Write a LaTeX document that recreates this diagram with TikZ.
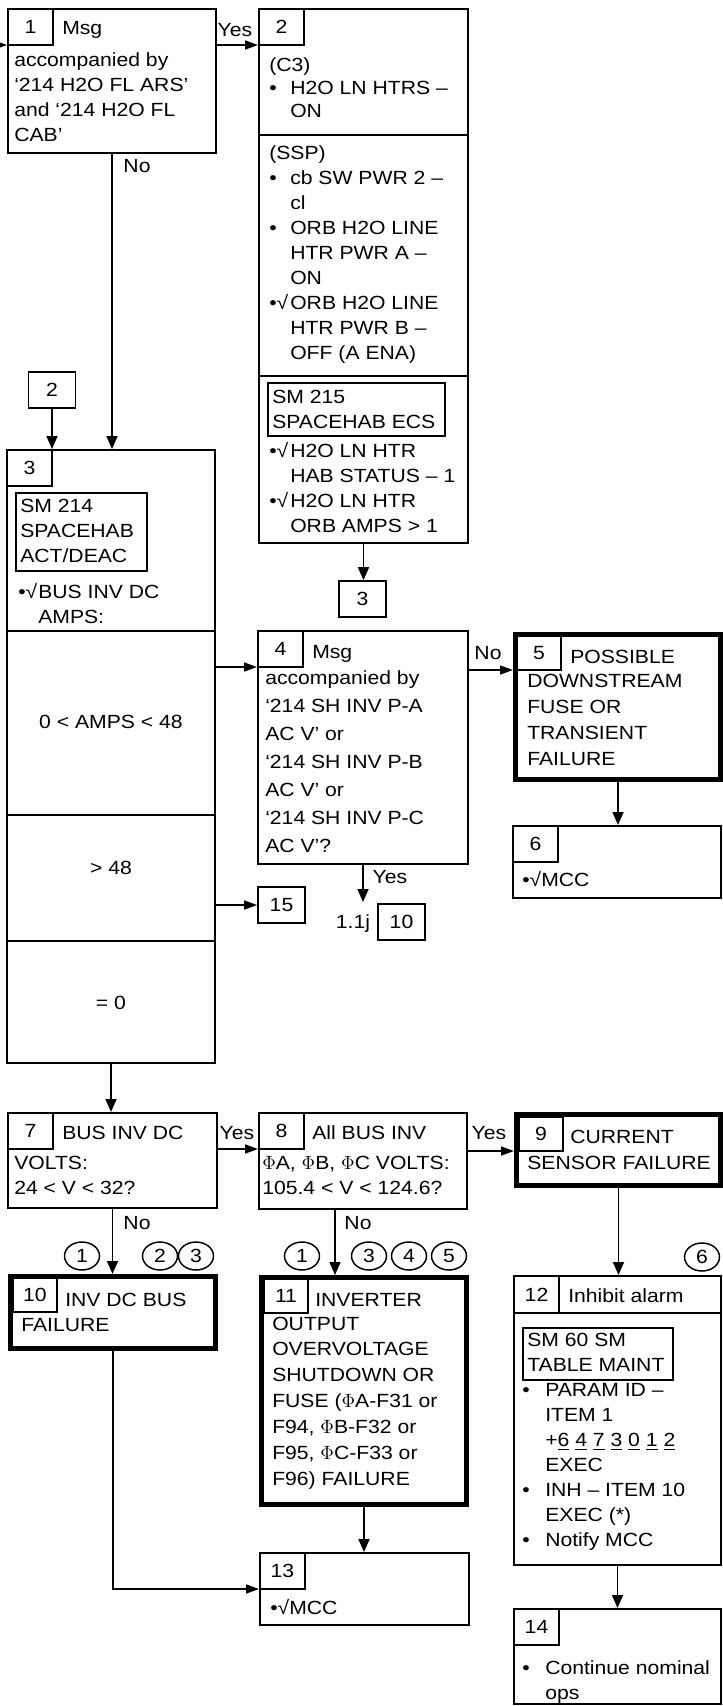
\documentclass[tikz,border=0pt]{standalone}
\usepackage{fontspec}
\setmainfont{Liberation Sans}[FakeStretch=1.11]
\usetikzlibrary{arrows.meta,fit,shapes.geometric}
\newdimen\pxu \pxu=0.75pt
\newcommand\bul[1][21]{\makebox[#1\pxu][l]{•}}
\newcommand\chk[1][21]{\makebox[#1\pxu][l]{•√}}
\newcommand\ind[1][21]{\hspace*{#1\pxu}}
\newcommand\fsz[1]{\fontsize{14.3}{#1}\selectfont}

\begin{document}
\begin{tikzpicture}[x=0.75pt,y=-0.75pt,
      panel/.style={draw,line width=1.5pt,inner sep=0pt},
      heavy/.style={draw,line width=3.75pt,inner sep=0pt},
      smpanel/.style={draw,line width=1.2pt,inner sep=0pt},
      numbox/.style={draw,line width=1.1pt,anchor=north west,inner sep=0pt,outer sep=0pt,
        minimum width=33.75pt,minimum height=27pt,font=\fsz{16}},
      numin/.style={numbox,minimum width=33pt,minimum height=25.5pt},
      refbox/.style={draw,line width=1.3pt,inner sep=0pt,minimum width=35.25pt,
        minimum height=27pt,font=\fsz{16}},
      txt/.style={anchor=north west,inner sep=0pt,align=left,font=\fsz{18.75},
        execute at begin node={\rule{0pt}{12pt}}},
      lbl/.style={inner sep=0pt,font=\fsz{16}},
      cnum/.style={ellipse,draw,line width=1.1pt,inner sep=0pt,minimum width=26.25pt,
        minimum height=21pt,font=\fsz{16}},
      harr/.style={-{Triangle[length=9.75pt,width=6.75pt]},line width=1.2pt},
      varr/.style={-{Triangle[length=9.75pt,width=8.25pt]},line width=1.2pt}
    ]
    \useasboundingbox (0,0) rectangle (723,1706);

    % upper row
    \node[panel,fit={(8,9) (216,153)}] (b1) {};
    \node[numbox] (n1) at (8,9) {1};
    \node[txt] (t1a) at (62,18.5) {Msg};
    \node[txt] (t1b) at (14,52.5) {accompanied by\\‘214 H2O FL ARS’\\and ‘214 H2O FL\\CAB’};

    \node[panel,fit={(259,9) (468,543)}] (b2) {};
    \node[numbox] (n2) at (259,9) {2};
    \draw[line width=1.5pt] (259,135) -- (468,135) (259,376) -- (468,376);
    \node[txt,font=\fsz{17.25}] (t2a) at (269,57.5) {(C3)\\\bul H2O LN HTRS –\\\ind ON};
    \node[txt] (t2b) at (269,145.5) {(SSP)\\\bul cb SW PWR 2 –\\\ind cl\\\bul ORB H2O LINE\\
      \ind HTR PWR A –\\\ind ON\\\chk ORB H2O LINE\\\ind HTR PWR B –\\\ind OFF (A ENA)};
    \node[smpanel,fit={(268,383) (445,436)}] (sm215) {};
    \node[txt] (t2c) at (272,390) {SM 215\\SPACEHAB ECS};
    \node[txt] (t2d) at (269,442.5) {\chk H2O LN HTR\\\ind HAB STATUS – 1\\\chk H2O LN HTR\\\ind ORB AMPS > 1};

    \node[refbox] (r2) at (52,390) {2};
    \node[refbox] (r3) at (362.5,599) {3};
    \node[refbox] (r15) at (281.5,905) {15};
    \node[refbox] (r10) at (401.5,922) {10};

    % middle row
    \node[panel,fit={(7,450) (215,1063)}] (b3) {};
    \node[numbox] (n3) at (7,450) {3};
    \node[smpanel,fit={(16,493) (147,571)}] (sm214) {};
    \node[txt] (t3a) at (20,498.5) {SM 214\\SPACEHAB\\ACT/DEAC};
    \node[txt] (t3b) at (18,583.5) {\chk[20]BUS INV DC\\\ind[20]AMPS:};
    \draw[line width=1.5pt] (7,631) -- (215,631) (7,815) -- (215,815) (7,941) -- (215,941);
    \node[lbl] (t3c) at (111,722) {0 < AMPS < 48};
    \node[lbl] (t3d) at (111,868) {> 48};
    \node[lbl] (t3e) at (111,1003) {= 0};

    \node[panel,fit={(258,631) (468,864)}] (b4) {};
    \node[numbox] (n4) at (258,631) {4};
    \node[txt] (t4a) at (312,642.5) {Msg};
    \node[txt,font=\fsz{21}] (t4b) at (265,670.5) {accompanied by\\‘214 SH INV P-A\\AC V’ or\\
      ‘214 SH INV P-B\\AC V’ or\\‘214 SH INV P-C\\AC V’?};

    \node[heavy,fit={(515.5,634.5) (720.5,779.5)}] (b5) {};
    \node[numin] (n5) at (517,636) {5};
    \node[txt] (t5a) at (570,647.5) {POSSIBLE};
    \node[txt,font=\fsz{19.5}] (t5b) at (527,673.5) {DOWNSTREAM\\FUSE OR\\TRANSIENT\\FAILURE};

    \node[panel,fit={(513,826) (721,898)}] (b6) {};
    \node[numbox] (n6) at (513,826) {6};
    \node[txt] (t6) at (522,870.5) {•√MCC};

    % lower rows
    \node[panel,fit={(8,1113) (217,1208)}] (b7) {};
    \node[numbox] (n7) at (8,1113) {7};
    \node[txt] (t7a) at (62,1123.5) {BUS INV DC};
    \node[txt] (t7b) at (14,1155.5) {VOLTS:\\24 < V < 32?};

    \node[panel,fit={(259,1113) (467,1209)}] (b8) {};
    \node[numbox] (n8) at (259,1113) {8};
    \node[txt] (t8a) at (312,1123.5) {All BUS INV};
    \node[txt] (t8b) at (262,1155.5) {$\Phi$A, $\Phi$B, $\Phi$C VOLTS:\\105.4 < V < 124.6?};

    \node[heavy,fit={(516.5,1114.5) (720.5,1185.5)}] (b9) {};
    \node[numin] (n9) at (519,1117) {9};
    \node[txt] (t9a) at (570,1127.5) {CURRENT};
    \node[txt] (t9b) at (527,1153.5) {SENSOR FAILURE};

    \foreach \n/\x/\y/\d in {c7a/82/1256/1,c7b/160/1256/2,c7c/196/1256/3,
      c8a/302/1256/1,c8b/369/1256/3,c8c/409/1256/4,c8d/449/1256/5,c9a/702/1257/6}{
      \node[cnum] (\n) at (\x,\y) {\d};
    }

    \node[heavy,fit={(10.5,1276.5) (215.5,1348.5)}] (b10) {};
    \node[numin] (n10) at (13,1278) {10};
    \node[txt] (t10a) at (65,1290.5) {INV DC BUS};
    \node[txt] (t10b) at (21,1315.5) {FAILURE};

    \node[heavy,fit={(261.5,1277.5) (466.5,1504.5)}] (b11) {};
    \node[numin] (n11) at (264,1279) {11};
    \node[txt] (t11a) at (315,1290.5) {INVERTER};
    \node[txt,font=\fsz{19.4}] (t11b) at (272,1316.5) {OUTPUT\\OVERVOLTAGE\\SHUTDOWN OR\\
      FUSE ($\Phi$A-F31 or\\F94, $\Phi$B-F32 or\\F95, $\Phi$C-F33 or\\F96) FAILURE};

    \node[panel,fit={(514,1276) (721,1565)}] (b12) {};
    \node[numbox,minimum height=27.75pt] (n12) at (514,1276) {12};
    \draw[line width=1.1pt] (n12.south east) -- (b12.east |- n12.south);
    \node[txt] (t12a) at (568,1286.5) {Inhibit alarm};
    \node[smpanel,fit={(523,1328) (673,1380)}] (sm60) {};
    \node[txt] (t12b) at (527,1332.5) {SM 60 SM\\TABLE MAINT};
    \node[txt] (t12c) at (522,1383.5) {\bul[23]PARAM ID –\\\ind[23]ITEM 1\\
      \ind[23]+\underline{6} \underline{4} \underline{7} \underline{3} \underline{0} \underline{1} \underline{2}\\
      \ind[23]EXEC\\\bul[23]INH – ITEM 10\\\ind[23]EXEC (*)\\\bul[23]Notify MCC};

    \node[panel,fit={(260,1553) (469,1625)}] (b13) {};
    \node[numbox] (n13) at (260,1553) {13};
    \node[txt] (t13) at (270,1598.5) {•√MCC};

    \node[panel,fit={(514,1609) (721,1704)}] (b14) {};
    \node[numbox] (n14) at (514,1609) {14};
    \node[txt] (t14) at (522,1660.5) {\bul[23]Continue nominal\\\ind[23]ops};

    % branch labels
    \node[lbl] (l1y) at (235,30) {Yes};
    \node[lbl] (l1n) at (137,166) {No};
    \node[lbl] (l4n) at (488,653) {No};
    \node[lbl] (l4y) at (390,877) {Yes};
    \node[lbl] (l11j) at (353,924) {1.1j};
    \node[lbl] (l7y) at (237,1133) {Yes};
    \node[lbl] (l8y) at (489,1133) {Yes};
    \node[lbl] (l7n) at (137,1223) {No};
    \node[lbl] (l8n) at (358,1223) {No};

    % connectors
    \coordinate (in1) at (0,45);
    \coordinate (e4) at (363,902);
    \coordinate (d8) at (335,0);
    \draw[harr] (in1) -- (in1 -| b1.west);
    \draw[harr] (b1.east |- n2.south) -- (b2.west |- n2.south);
    \draw[varr] (b1.south) -- (b1.south |- b3.north);
    \draw[varr] (r2.south) -- (r2.south |- b3.north);
    \draw[varr] (b2.south) -- (b2.south |- r3.north);
    \draw[harr] (b3.east |- n4.south) -- (b4.west |- n4.south);
    \draw[harr] (b3.east |- r15.west) -- (r15.west);
    \draw[harr] (b4.east |- n5.south) -- (b5.west |- n5.south);
    \draw[varr] (b4.south -| e4) -- (e4);
    \draw[varr] (b5.south) -- (b5.south |- b6.north);
    \draw[varr] (b3.south) -- (b3.south |- b7.north);
    \draw[harr] (b7.east |- n8.south) -- (b8.west |- n8.south);
    \draw[harr] (b8.east |- n9.south) -- (b9.west |- n9.south);
    \draw[varr] (b7.south) -- (b7.south |- b10.north);
    \draw[varr] (b8.south -| d8) -- (b11.north -| d8);
    \draw[varr] (b9.south) -- (b9.south |- b12.north);
    \draw[harr] (b10.south) |- (b13.west |- n13.south);
    \draw[varr] (b11.south) -- (b11.south |- b13.north);
    \draw[varr] (b12.south) -- (b12.south |- b14.north);
  \end{tikzpicture}
\end{document}
